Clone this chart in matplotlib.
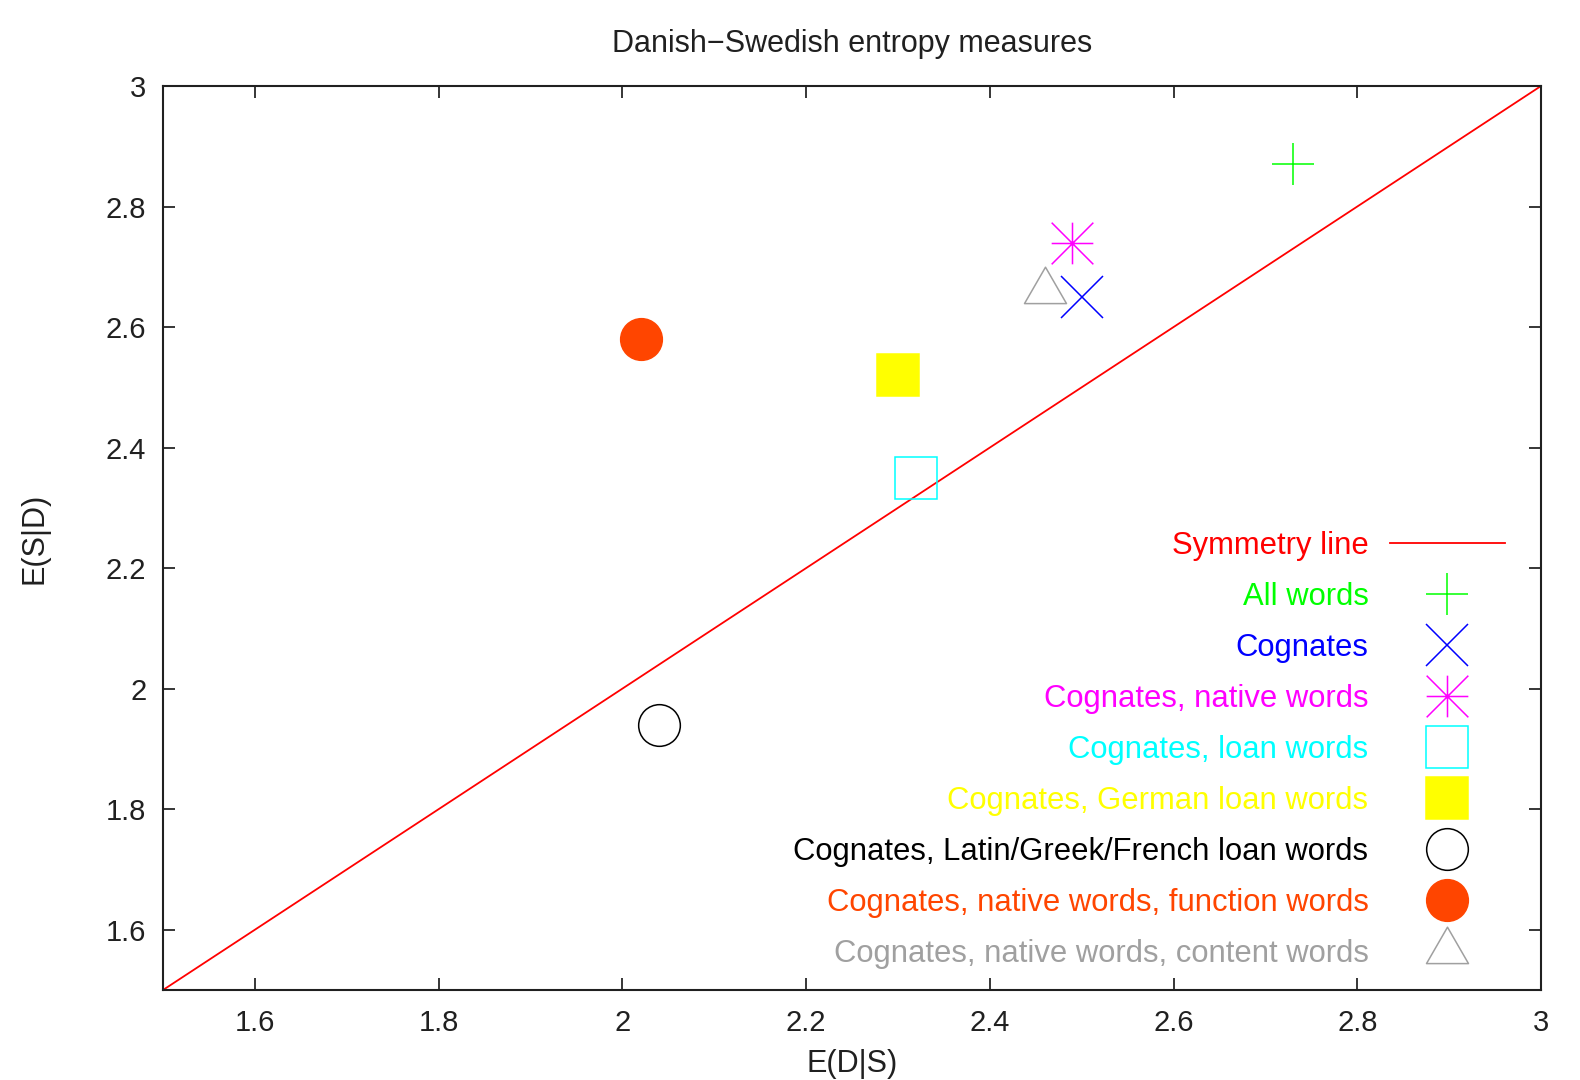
import matplotlib
matplotlib.use("Agg")
import matplotlib.pyplot as plt
from matplotlib.path import Path
from matplotlib.ticker import FuncFormatter

plt.rcParams['font.family'] = ['Liberation Sans', 'DejaVu Sans']

# symmetry line x = y
sym_x = [1.5, 3.0]
sym_y = [1.5, 3.0]

labels = ["All words", "Cognates", "Cognates, native words", "Cognates, loan words",
          "Cognates, German loan words", "Cognates, Latin/Greek/French loan words",
          "Cognates, native words, function words", "Cognates, native words, content words"]
e_ds = [2.73, 2.50, 2.49, 2.32, 2.30, 2.04, 2.02, 2.46]   # E(D|S)
e_sd = [2.87, 2.65, 2.74, 2.35, 2.52, 1.94, 2.58, 2.66]   # E(S|D)
colors = ['#00ff00', '#0000ff', '#ff00ff', '#00ffff', '#ffff00', '#000000', '#ff4500', '#a0a0a0']

xticks = [1.6, 1.8, 2.0, 2.2, 2.4, 2.6, 2.8, 3.0]
yticks = [1.6, 1.8, 2.0, 2.2, 2.4, 2.6, 2.8, 3.0]

# gnuplot style asterisk (+ and x on top of each other)
star = Path([(-1, 0), (1, 0), (0, -1), (0, 1), (-1, -1), (1, 1), (-1, 1), (1, -1)],
            [Path.MOVETO, Path.LINETO] * 4)
# equilateral triangle centred on its centroid
tri = Path([(0, 24.3), (-21, -12.1), (21, -12.1), (0, 24.3)],
           [Path.MOVETO, Path.LINETO, Path.LINETO, Path.CLOSEPOLY])

markers = ['+', 'x', star, 's', 's', 'o', 'o', tri]
filled = [False, False, False, False, True, False, True, False]
sizes = [30, 30, 30, 30, 30, 30, 30, 35]

fig = plt.figure(figsize=(15.8, 10.8), dpi=100)
ax = fig.add_axes([163 / 1580, 1 - 990 / 1080, 1378 / 1580, 904 / 1080])

ax.plot(sym_x, sym_y, color='#ff0000', lw=1.3, label="Symmetry line")
for i in range(len(labels)):
    ax.plot(e_ds[i], e_sd[i], linestyle='none', marker=markers[i], markersize=sizes[i],
            color=colors[i], markeredgecolor=colors[i], markeredgewidth=1.1,
            markerfacecolor=colors[i] if filled[i] else 'none', label=labels[i])

ax.set_xlim(1.5, 3.0)
ax.set_ylim(1.5, 3.0)
ax.set_xticks(xticks)
ax.set_yticks(yticks)
fmt = FuncFormatter(lambda v, p: '%g' % round(v, 2))
ax.xaxis.set_major_formatter(fmt)
ax.yaxis.set_major_formatter(fmt)
ax.tick_params(direction='in', length=8.6, width=1.1, top=True, right=True,
               labelsize=21, labelcolor='#202020')
ax.tick_params(axis='x', pad=14)
ax.tick_params(axis='y', pad=12)
for s in ax.spines.values():
    s.set_linewidth(1.5)
    s.set_color('#202020')

ax.set_xlabel("E(D|S)", fontsize=22, va='center', color='#202020')
ax.xaxis.set_label_coords(0.5, -0.082)
ax.set_ylabel("E(S|D)", fontsize=22, va='center', color='#202020')
ax.yaxis.set_label_coords(-0.093, 0.5)
ax.set_title("Danish\u2212Swedish entropy measures", fontsize=22, y=1.037, va='center',
             color='#202020')

ax.legend(loc='center right', bbox_to_anchor=(1505 / 1580, 1 - 750 / 1080),
          bbox_transform=fig.transFigure, frameon=False, markerfirst=False,
          labelcolor='linecolor', prop={'size': 22.3}, borderpad=0, borderaxespad=0,
          numpoints=1, handlelength=3.72, handletextpad=0.69, labelspacing=0.68)

fig.savefig("out.png", dpi=100)
